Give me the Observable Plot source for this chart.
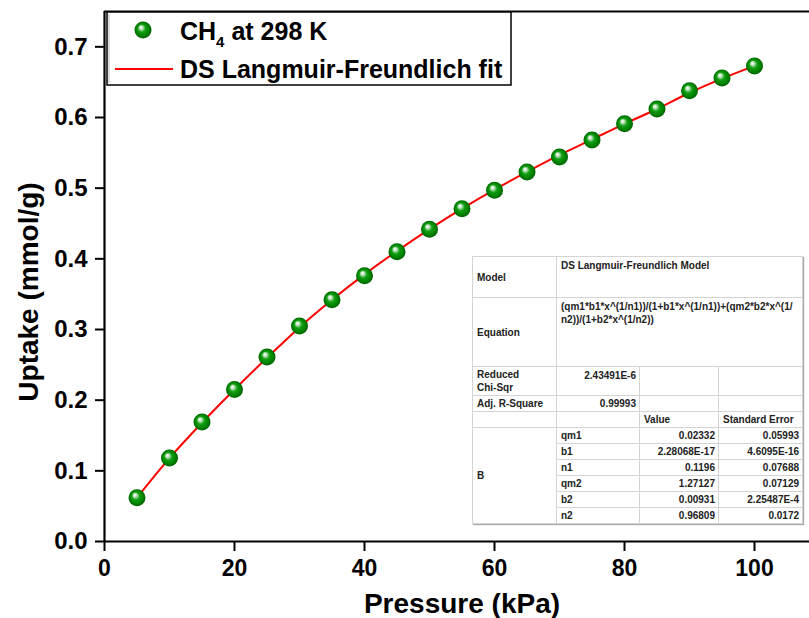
<!DOCTYPE html>
<html>
<head>
<meta charset="utf-8">
<script src="https://cdn.jsdelivr.net/npm/d3@7"></script>
<script src="https://cdn.jsdelivr.net/npm/@observablehq/plot@0.6"></script>
<style>
  html, body { margin: 0; padding: 0; background: #fff; }
  #wrap { position: relative; width: 809px; height: 618px; overflow: hidden; background: #fff; }
  #wrap svg { display: block; }
  #tbl { position: absolute; left: 472px; top: 256px; border-collapse: collapse; table-layout: fixed;
         font-family: "Liberation Sans", Arial, sans-serif; font-weight: bold; font-size: 10px; color: #222;
         background: #fff; border: 1px solid #777; box-shadow: 1px 1px 1px #aaa; }
  #tbl td { border: 1px solid #d4d4d4; padding: 0 3px 0 4px; line-height: 13px; white-space: nowrap; overflow: hidden; }
  #tbl td.num { text-align: right; }
  #tbl td.top { vertical-align: top; padding-top: 2px; }
  #tbl td.mid { vertical-align: middle; }
</style>
</head>
<body>
<div id="wrap"></div>
<script>
// ---- data ----
const pressure = [5, 10, 15, 20, 25, 30, 35, 40, 45, 50, 55, 60, 65, 70, 75, 80, 85, 90, 95, 100];
const uptake   = [0.062, 0.118, 0.169, 0.215, 0.261, 0.305, 0.342, 0.376, 0.410, 0.442,
                  0.471, 0.497, 0.523, 0.544, 0.568, 0.591, 0.612, 0.638, 0.656, 0.673];
const fitPressure = [5, 10, 15, 20, 25, 30, 35, 40, 45, 50, 55, 60, 65, 70, 75, 80, 85, 90, 95, 100];
const fitUptake   = [0.062, 0.118, 0.168, 0.215, 0.260, 0.303, 0.342, 0.378, 0.411, 0.442,
                     0.471, 0.498, 0.523, 0.547, 0.569, 0.591, 0.612, 0.635, 0.655, 0.673];
const xTicks = [0, 20, 40, 60, 80, 100];
const yTicks = [0, 0.1, 0.2, 0.3, 0.4, 0.5, 0.6, 0.7];
const xTitle = "Pressure (kPa)";
const yTitle = "Uptake (mmol/g)";
const legendSeries = ["CH", "4", " at 298 K"];
const legendFit = "DS Langmuir-Freundlich fit";

// fit report table
const modelName = "DS Langmuir-Freundlich Model";
const equationLines = ["(qm1*b1*x^(1/n1))/(1+b1*x^(1/n1))+(qm2*b2*x^(1/", "n2))/(1+b2*x^(1/n2))"];
const chiLabelLines = ["Reduced", "Chi-Sqr"];
const chiValue = "2.43491E-6";
const r2Label = "Adj. R-Square";
const r2Value = "0.99993";
const colHeaders = ["Value", "Standard Error"];
const paramGroup = "B";
const paramNames  = ["qm1", "b1", "n1", "qm2", "b2", "n2"];
const paramValues = ["0.02332", "2.28068E-17", "0.1196", "1.27127", "0.00931", "0.96809"];
const paramErrors = ["0.05993", "4.6095E-16", "0.07688", "0.07129", "2.25487E-4", "0.0172"];

const points = pressure.map((p, i) => ({p, u: uptake[i]}));
const fit = fitPressure.map((p, i) => ({p, u: fitUptake[i]}));

const font = "'Liberation Sans', Arial, sans-serif";

const chart = Plot.plot({
  width: 809,
  height: 618,
  marginLeft: 104,
  marginRight: 0,
  marginTop: 11,
  marginBottom: 77,
  style: {fontFamily: font, fontWeight: "bold", background: "#fff", color: "#000", overflow: "visible"},
  x: {domain: [0, 108.46]},
  y: {domain: [0, 0.75]},
  marks: [
    Plot.axisX({ticks: xTicks, tickSize: 10, tickPadding: 8, fontSize: 23, fontWeight: "bold",
                strokeWidth: 2, label: null, tickFormat: d => String(d)}),
    Plot.axisY({ticks: yTicks, tickSize: 9, tickPadding: 8, fontSize: 24, fontWeight: "bold",
                strokeWidth: 2, label: null, tickFormat: d => d.toFixed(1)}),
    Plot.ruleX([0], {strokeWidth: 2.2}),
    Plot.ruleY([0], {strokeWidth: 2.2}),
    Plot.ruleY([0.75], {strokeWidth: 2.2}),
    Plot.line(fit, {x: "p", y: "u", stroke: "#ff0000", strokeWidth: 2, curve: "catmull-rom"}),
    Plot.dot(points, {x: "p", y: "u", r: 8.5, fill: "url(#sphere)", stroke: "none"})
  ]
});

document.getElementById("wrap").appendChild(chart);

const svg = d3.select(chart);
const defs = svg.insert("defs", ":first-child");
const g = defs.append("radialGradient").attr("id", "sphere")
  .attr("cx", "0.5").attr("cy", "0.5").attr("r", "0.5")
  .attr("fx", "0.36").attr("fy", "0.32");
g.append("stop").attr("offset", "0%").attr("stop-color", "#ffffff");
g.append("stop").attr("offset", "20%").attr("stop-color", "#c4e6c4");
g.append("stop").attr("offset", "45%").attr("stop-color", "#14a014");
g.append("stop").attr("offset", "80%").attr("stop-color", "#008000");
g.append("stop").attr("offset", "100%").attr("stop-color", "#005f00");

// axis titles
svg.append("text").attr("x", 462).attr("y", 603).attr("text-anchor", "middle")
  .attr("dominant-baseline", "central").attr("font-size", 28).attr("font-weight", "bold")
  .attr("font-family", font).attr("fill", "#000").text(xTitle);
svg.append("text").attr("transform", "translate(28,292) rotate(-90)").attr("text-anchor", "middle")
  .attr("dominant-baseline", "central").attr("font-size", 28).attr("font-weight", "bold")
  .attr("font-family", font).attr("fill", "#000").text(yTitle);

// legend
const lg = svg.append("g").attr("font-family", font).attr("font-weight", "bold").attr("text-anchor", "start");
lg.append("rect").attr("x", 107).attr("y", 12).attr("width", 404).attr("height", 73)
  .attr("fill", "#fff").attr("stroke", "#000").attr("stroke-width", 1.5);
lg.append("line").attr("x1", 109).attr("y1", 14).attr("x2", 109).attr("y2", 83)
  .attr("stroke", "#bbb").attr("stroke-width", 1);
lg.append("circle").attr("cx", 143).attr("cy", 30).attr("r", 8.5).attr("fill", "url(#sphere)");
const t1 = lg.append("text").attr("x", 180).attr("y", 40).attr("font-size", 25).attr("fill", "#000");
t1.append("tspan").text(legendSeries[0]);
t1.append("tspan").attr("font-size", 15).attr("dy", 7).text(legendSeries[1]);
t1.append("tspan").attr("dy", -7).text(legendSeries[2]);
lg.append("line").attr("x1", 115).attr("x2", 173).attr("y1", 69).attr("y2", 69)
  .attr("stroke", "#ff0000").attr("stroke-width", 2);
lg.append("text").attr("x", 180).attr("y", 78).attr("font-size", 25).attr("fill", "#000").text(legendFit);

// fit report table
const colW = [84, 83, 79, 84];
let html = "<colgroup>" + colW.map(w => `<col style="width:${w}px">`).join("") + "</colgroup>";
html += `<tr style="height:41px"><td class="mid">Model</td><td class="top" colspan="3">${modelName}</td></tr>`;
html += `<tr style="height:69px"><td class="mid">Equation</td><td class="top" colspan="3">${equationLines.join("<br>")}</td></tr>`;
html += `<tr style="height:29px"><td class="mid">${chiLabelLines.join("<br>")}</td><td class="top num">${chiValue}</td><td></td><td></td></tr>`;
html += `<tr style="height:16px"><td class="mid">${r2Label}</td><td class="num">${r2Value}</td><td></td><td></td></tr>`;
html += `<tr style="height:16px"><td></td><td></td><td>${colHeaders[0]}</td><td>${colHeaders[1]}</td></tr>`;
paramNames.forEach((n, i) => {
  html += `<tr style="height:16px">` + (i === 0 ? `<td class="mid" rowspan="${paramNames.length}">${paramGroup}</td>` : "")
    + `<td>${n}</td><td class="num">${paramValues[i]}</td><td class="num">${paramErrors[i]}</td></tr>`;
});
const table = document.createElement("table");
table.id = "tbl";
table.style.width = colW.reduce((a, b) => a + b, 0) + "px";
table.innerHTML = html;
document.getElementById("wrap").appendChild(table);
</script>
</body>
</html>
